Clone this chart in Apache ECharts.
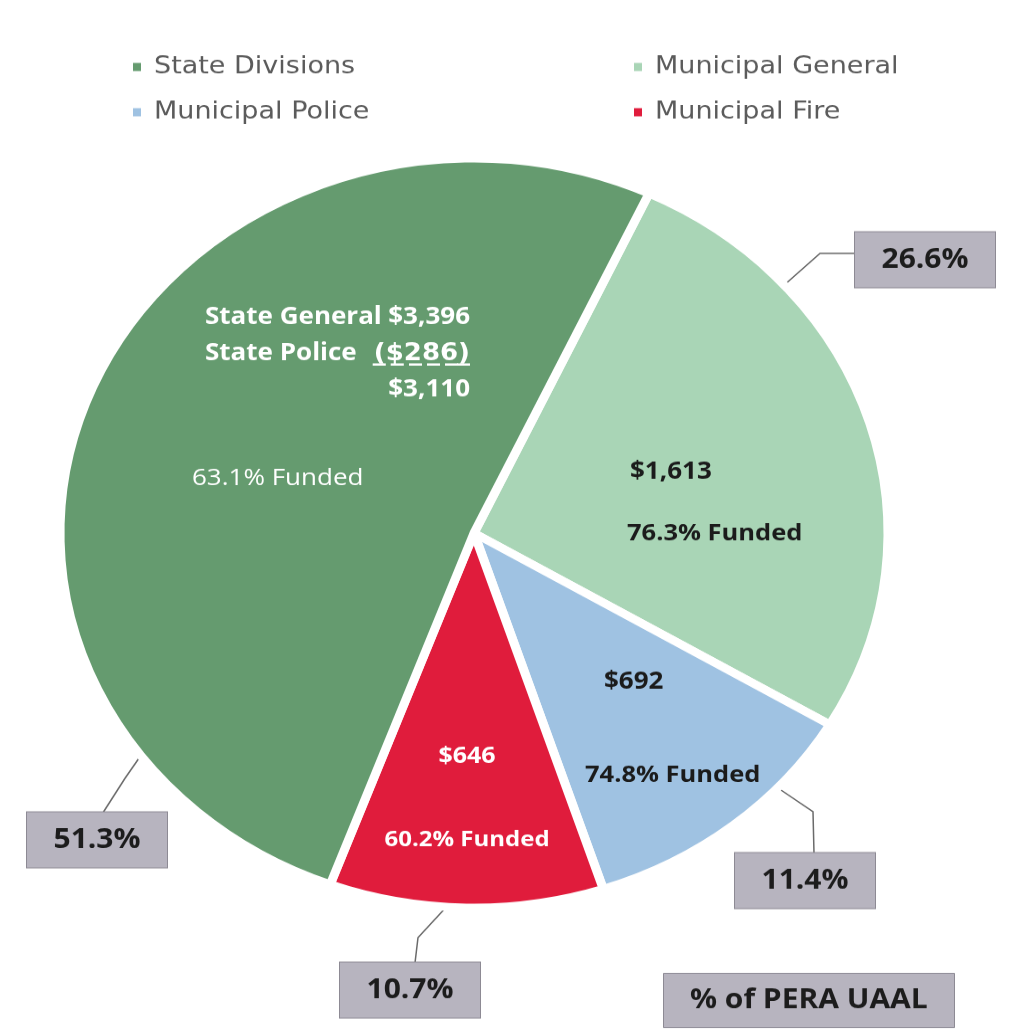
<!DOCTYPE html>
<html>
<head>
<meta charset="utf-8">
<script src="https://cdn.jsdelivr.net/npm/echarts@6/dist/echarts.min.js"></script>
<style>
html,body{margin:0;padding:0;background:#fff;overflow:hidden;width:1036px;height:1035px;}
#chart{width:1036px;height:1144px;transform:scaleY(0.905);transform-origin:0 0;}
</style>
</head>
<body>
<div id="chart"></div>
<script>
// ---- data ----
const categories = ['Municipal General', 'Municipal Police', 'Municipal Fire', 'State Divisions'];
const uaalShare = [26.6, 11.4, 10.7, 51.3];          // % of PERA UAAL
const uaalAmount = [1613, 692, 646, 3110];            // $ millions
const fundedRatio = [76.3, 74.8, 60.2, 63.1];         // % funded
const stateGeneralAmount = 3396;
const statePoliceAmount = 286;
const legendLeft = ['State Divisions', 'Municipal Police'];
const legendRight = ['Municipal General', 'Municipal Fire'];

// ---- styles (chart drawn in a 1036x1144 box, squeezed vertically to match the reference aspect) ----
const colors = ['#a9d5b6', '#9fc2e2', '#e01c3c', '#659b6f'];
const FONT = '"Open Sans", "DejaVu Sans", sans-serif';
const LEGEND_FONT = '"DejaVu Sans", sans-serif';
const boxCenters = [[925, 287], [805, 973], [410, 1094], [97, 928]];
const leaderPoints = [
  [[778, 321], [820, 280], [855, 280]],
  [[769, 864], [813, 897], [814, 943]],
  [[454, 993], [418, 1036], [415, 1064]],
  [[147, 825], [125, 860], [103, 898]]
];
const innerPos = [
  {x: 627, y: 487, align: 'left'},
  {x: 585, y: 702, align: 'left'},
  {x: 467, y: 790, align: 'center'},
  {x: 192, y: 331, align: 'left'}
];
const innerSpacing = [68.5, 103, 92, 0];
const innerColor = ['#1b1b1b', '#1b1b1b', '#ffffff', '#ffffff'];
const innerPad = [3, 19, 0, 0];
const innerValueSize = [26, 26, 25, 0];
const innerFundSize = [25.5, 25.5, 24, 0];

function money(v) { return '$' + v.toLocaleString('en-US'); }
function underline(s) { return s.split('').map(c => c + '\u0332').join(''); }

const outerData = categories.map((name, i) => ({
  name: name,
  value: uaalShare[i],
  itemStyle: {color: colors[i]}
}));

const innerData = categories.map((name, i) => {
  let label;
  if (name === 'State Divisions') {
    label = {
      formatter: '{a|State General}{b|' + money(stateGeneralAmount) + '}\n' +
                 '{a|State Police}{b|' + underline('(' + money(statePoliceAmount) + ')') + '}\n' +
                 '{a| }{b|' + money(uaalAmount[i]) + '}\n' +
                 '{s| }\n' +
                 '{f|' + fundedRatio[i].toFixed(1) + '% Funded}',
      rich: {
        a: {fontFamily: FONT, fontWeight: 'bold', fontSize: 26, color: '#fff', width: 180, padding: [0, 0, 0, 13], lineHeight: 40, align: 'left'},
        b: {fontFamily: FONT, fontWeight: 'bold', fontSize: 26, color: '#fff', width: 85, align: 'right', lineHeight: 40},
        s: {fontSize: 10, lineHeight: 58},
        f: {fontFamily: FONT, fontWeight: 'normal', fontSize: 26, color: '#fff', lineHeight: 40}
      }
    };
  } else {
    const lh = innerSpacing[i];
    label = {
      formatter: '{v|' + money(uaalAmount[i]) + '}\n{w|' + fundedRatio[i].toFixed(1) + '% Funded}',
      rich: {
        v: {fontFamily: FONT, fontWeight: 'bold', fontSize: innerValueSize[i], color: innerColor[i], lineHeight: lh, padding: [0, 0, 0, innerPad[i]], align: innerPos[i].align},
        w: {fontFamily: FONT, fontWeight: 'bold', fontSize: innerFundSize[i], color: innerColor[i], lineHeight: lh, align: innerPos[i].align}
      }
    };
  }
  return {name: name, value: uaalShare[i], label: label};
});

const chart = echarts.init(document.getElementById('chart'));
const legendBase = {
  orient: 'vertical',
  top: 54,
  icon: 'rect',
  itemWidth: 10,
  itemHeight: 11,
  itemGap: 20,
  textStyle: {fontFamily: LEGEND_FONT, fontSize: 27, color: '#5b5b5b', lineHeight: 30, padding: [0, 0, 0, 7]}
};

chart.setOption({
  backgroundColor: '#ffffff',
  animation: false,
  title: {
    text: '% of PERA UAAL',
    left: 663,
    top: 1075,
    padding: [14, 27],
    backgroundColor: '#b7b4bf',
    borderColor: '#8d8a94',
    borderWidth: 1,
    textStyle: {fontFamily: FONT, fontWeight: 'bold', fontSize: 30, color: '#1c1c1c', lineHeight: 33}
  },
  legend: [
    Object.assign({}, legendBase, {left: 126, data: legendLeft}),
    Object.assign({}, legendBase, {left: 627, data: legendRight})
  ],
  series: [
    {
      type: 'pie',
      center: [474, 589],
      radius: [0, 414],
      startAngle: 65,
      clockwise: true,
      avoidLabelOverlap: false,
      emphasis: {scale: false},
      itemStyle: {borderColor: '#ffffff', borderWidth: 9},
      data: outerData,
      label: {
        show: true,
        position: 'outside',
        formatter: p => p.value.toFixed(1) + '%',
        fontFamily: FONT,
        fontWeight: 'bold',
        fontSize: 30,
        color: '#1c1c1c',
        backgroundColor: '#b7b4bf',
        borderColor: '#8d8a94',
        borderWidth: 1,
        width: 140,
        height: 61,
        lineHeight: 61,
        align: 'center'
      },
      labelLine: {
        show: true,
        length: 30,
        length2: 30,
        lineStyle: {color: '#6a6a6a', width: 1.5}
      },
      labelLayout: function (p) {
        const c = boxCenters[p.dataIndex];
        return {
          x: c[0], y: c[1], align: 'center', verticalAlign: 'middle',
          labelLinePoints: leaderPoints[p.dataIndex]
        };
      }
    },
    {
      type: 'pie',
      center: [474, 589],
      radius: [0, 414],
      startAngle: 65,
      clockwise: true,
      silent: true,
      avoidLabelOverlap: false,
      emphasis: {disabled: true},
      itemStyle: {color: 'rgba(0,0,0,0)', borderWidth: 0},
      data: innerData,
      label: {show: true, position: 'inside'},
      labelLine: {show: false},
      labelLayout: function (p) {
        const c = innerPos[p.dataIndex];
        return {x: c.x, y: c.y, align: c.align, verticalAlign: 'top'};
      }
    }
  ]
});
</script>
</body>
</html>
